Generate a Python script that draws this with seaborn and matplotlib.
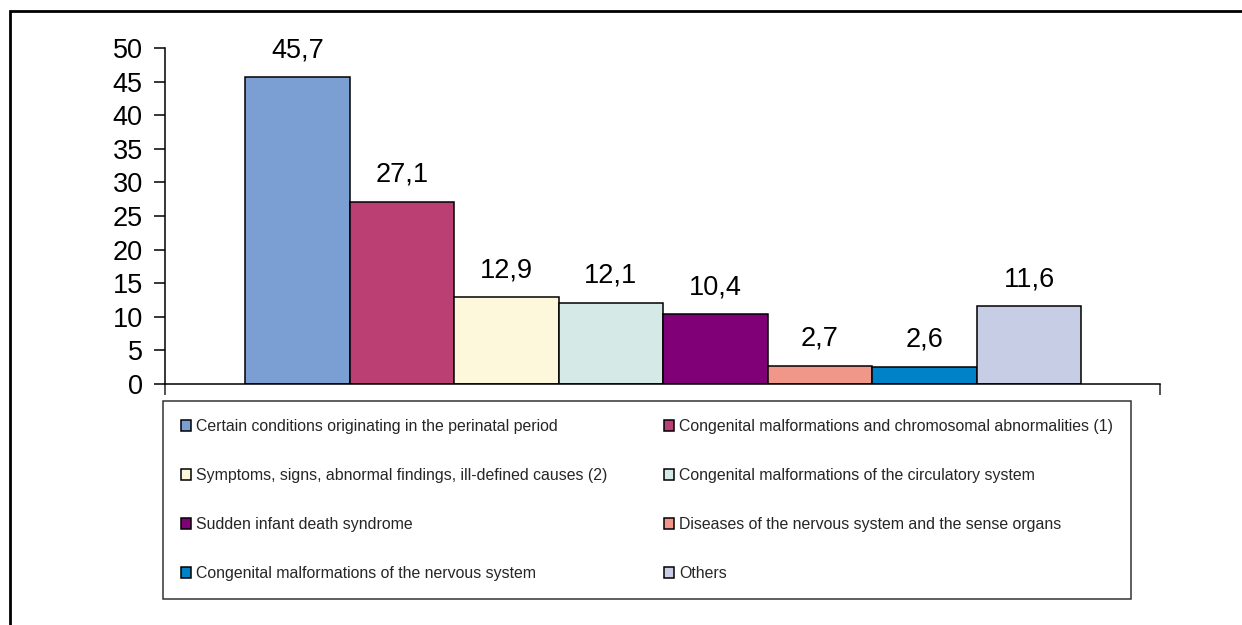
import matplotlib
matplotlib.use("Agg")
import matplotlib.pyplot as plt
from matplotlib.patches import Rectangle
import seaborn as sns

# Infant deaths by cause (%)
causes = [
    "Certain conditions originating in the perinatal period",
    "Congenital malformations and chromosomal abnormalities (1)",
    "Symptoms, signs, abnormal findings, ill-defined causes (2)",
    "Congenital malformations of the circulatory system",
    "Sudden infant death syndrome",
    "Diseases of the nervous system and the sense organs",
    "Congenital malformations of the nervous system",
    "Others",
]
shares = [45.7, 27.1, 12.9, 12.1, 10.4, 2.7, 2.6, 11.6]
colors = ["#7B9FD3", "#BC3F74", "#FDF8DC", "#D5E9E7",
          "#800078", "#F0978A", "#0082C8", "#C8CDE6"]
yticks = [0, 5, 10, 15, 20, 25, 30, 35, 40, 45, 50]

sns.set_theme(style="white")
plt.rcParams["font.family"] = ["Liberation Sans", "DejaVu Sans"]

fig = plt.figure(figsize=(12.42, 6.25), dpi=100)
ax = fig.add_axes([0.1329, 0.3856, 0.8013, 0.5376])

sns.barplot(x=causes, y=shares, hue=causes, palette=colors, width=1.0,
            edgecolor="black", linewidth=1.1, saturation=1, legend=False,
            ax=ax)

ax.set_xlim(-1.266, 8.256)
ax.set_ylim(0, 50)
ax.set_yticks(yticks)
ax.set_yticklabels([str(t) for t in yticks])
ax.set_xticks([-1.266, 8.256])
ax.set_xticklabels(["", ""])
ax.tick_params(axis="y", direction="out", length=8, width=1.1, pad=8,
               labelsize=19.5, left=True, colors="black")
ax.tick_params(axis="x", direction="out", length=8, width=1.1, bottom=True)
for side in ["top", "right"]:
    ax.spines[side].set_visible(False)
for side in ["left", "bottom"]:
    ax.spines[side].set_color("black")
    ax.spines[side].set_linewidth(1.1)

# Value labels with decimal comma
for cont in ax.containers:
    labels = [f"{v:.1f}".replace(".", ",") for v in cont.datavalues]
    ax.bar_label(cont, labels=labels, padding=10, fontsize=19.5,
                 color="black")

# Legend filled row by row in two columns
bars = [c.patches[0] for c in ax.containers]
order = [0, 2, 4, 6, 1, 3, 5, 7]
leg = fig.legend([bars[i] for i in order], [causes[i] for i in order],
                 ncol=2, mode="expand", loc="center",
                 bbox_to_anchor=(0.1312, 0.0432, 0.7794, 0.3136),
                 fontsize=11.4, frameon=True, fancybox=False,
                 edgecolor="black", handlelength=0.65, handleheight=0.65,
                 handletextpad=0.3, labelspacing=2.15, borderpad=1.15,
                 borderaxespad=0)
leg.get_frame().set_linewidth(1.1)

# Outer chart frame
fig.patches.append(Rectangle((0.008, -0.2), 1.2, 1.1824, transform=fig.transFigure,
                             fill=False, edgecolor="black", linewidth=2.0))

fig.savefig("out.png", dpi=100)
